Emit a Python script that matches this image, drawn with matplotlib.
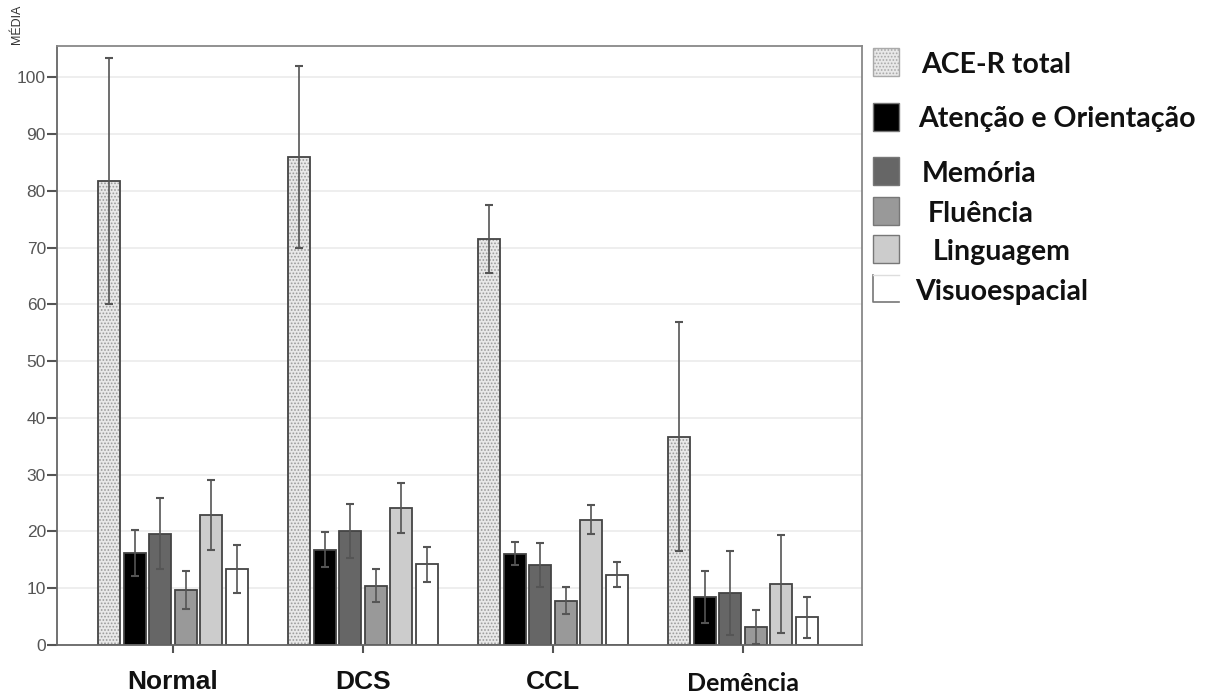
import matplotlib
matplotlib.use("Agg")
import matplotlib.pyplot as plt
from matplotlib.patches import Rectangle
import numpy as np

groups = ["Normal", "DCS", "CCL", "Demência"]
series = ["ACE-R total", "Atenção e Orientação", "Memória", "Fluência", "Linguagem", "Visuoespacial"]
# means per series, across groups
ace = [81.7, 86.0, 71.5, 36.7]
atencao = [16.2, 16.8, 16.1, 8.5]
memoria = [19.6, 20.1, 14.1, 9.1]
fluencia = [9.7, 10.4, 7.8, 3.2]
linguagem = [22.9, 24.2, 22.1, 10.7]
visuo = [13.4, 14.2, 12.4, 4.9]
# error bar half-widths
ace_err = [21.6, 16.0, 6.0, 20.2]
atencao_err = [4.1, 3.1, 2.0, 4.6]
memoria_err = [6.3, 4.8, 3.9, 7.4]
fluencia_err = [3.3, 2.9, 2.4, 3.0]
linguagem_err = [6.1, 4.4, 2.6, 8.6]
visuo_err = [4.2, 3.1, 2.2, 3.6]

means = [ace, atencao, memoria, fluencia, linguagem, visuo]
errs = [ace_err, atencao_err, memoria_err, fluencia_err, linguagem_err, visuo_err]
colors = ["#e8e8e8", "#000000", "#666666", "#999999", "#cccccc", "#ffffff"]

plt.rcParams['hatch.linewidth'] = 0.8

W, H = 1222, 697
fig = plt.figure(figsize=(W / 100, H / 100), dpi=100)
ax = fig.add_axes([57 / W, 1 - 645 / H, (862 - 57) / W, (645 - 46) / H])

x = np.arange(len(groups))
step = 0.134
bw = 0.116
edge = "#444444"
for i in range(6):
    pos = x + (i - 2.5) * step
    if i == 0:
        ax.bar(pos, means[i], width=bw, color=colors[i], edgecolor="#9a9a9a",
               linewidth=0, hatch=".....", zorder=2)
        ax.bar(pos, means[i], width=bw, fill=False, edgecolor=edge, linewidth=1.3, zorder=2.5)
    else:
        ax.bar(pos, means[i], width=bw, color=colors[i], edgecolor=edge, linewidth=1.3,
               zorder=2)
    ax.errorbar(pos, means[i], yerr=errs[i], fmt="none", ecolor="#555555",
                elinewidth=1.2, capsize=3, capthick=1.5, zorder=3)

ax.set_xlim(-0.61, 3.626)
ax.set_ylim(0, 105.5)
ax.set_yticks(np.arange(0, 101, 10))
ax.yaxis.grid(True, color="#ebebeb", linewidth=1.2, zorder=0)
ax.set_axisbelow(True)
for s in ax.spines.values():
    s.set_color("#888888")
    s.set_linewidth(1.3)
ax.spines["left"].set_color("#666666")
ax.spines["bottom"].set_color("#666666")
ax.tick_params(axis="y", direction="out", length=7, width=1.5, color="#555555",
               labelcolor="#555555", labelsize=12.5, pad=1)
ax.set_yticklabels([str(v) for v in range(0, 101, 10)], fontfamily="Liberation Sans")
ax.tick_params(axis="x", direction="out", length=6, width=1.5, color="#555555")
ax.set_xticks(x)
ax.set_xticklabels([])

# category labels
for xi, g in zip(x, groups):
    if g == "Demência":
        ax.text(xi, -6.7, g, ha="center", va="center", fontsize=18, fontweight="bold",
                fontfamily="Lato", color="#111111")
    else:
        ax.text(xi, -6.6, g, ha="center", va="center", fontsize=19, fontweight="bold",
                fontfamily="Liberation Sans", color="#111111")

fig.text(17 / W, 1 - 24 / H, "MÉDIA", rotation=90, ha="center", va="center",
         fontsize=9, fontfamily="Liberation Sans", color="#333333")

# legend (manual)
lax = fig.add_axes([0, 0, 1, 1])
lax.set_xlim(0, W)
lax.set_ylim(H, 0)
lax.axis("off")
leg_patch_y = [48, 103, 157, 197, 235, 275]
leg_text = [(921, 73), (918, 127), (922, 182), (928, 222), (933, 260), (915, 300)]
for i in range(6):
    if i == 5:
        lax.plot([873, 873, 899], [275, 302, 302], color="#777777", lw=1.2)
        lax.plot([873, 899], [275, 275], color="#dddddd", lw=1.0)
    elif i == 0:
        lax.add_patch(Rectangle((873, leg_patch_y[i]), 26, 28, facecolor=colors[i],
                                edgecolor="#a8a8a8", linewidth=0, hatch="....."))
        lax.add_patch(Rectangle((873, leg_patch_y[i]), 26, 28, fill=False,
                                edgecolor="#aaaaaa", linewidth=1.0))
    else:
        lax.add_patch(Rectangle((873, leg_patch_y[i]), 26, 28, facecolor=colors[i],
                                edgecolor="#777777", linewidth=1.0))
    lax.text(leg_text[i][0], leg_text[i][1], series[i], ha="left", va="baseline",
             fontsize=20.5, fontweight="bold", fontfamily="Lato", color="#111111")

fig.savefig("out.png", dpi=100, facecolor="white")
